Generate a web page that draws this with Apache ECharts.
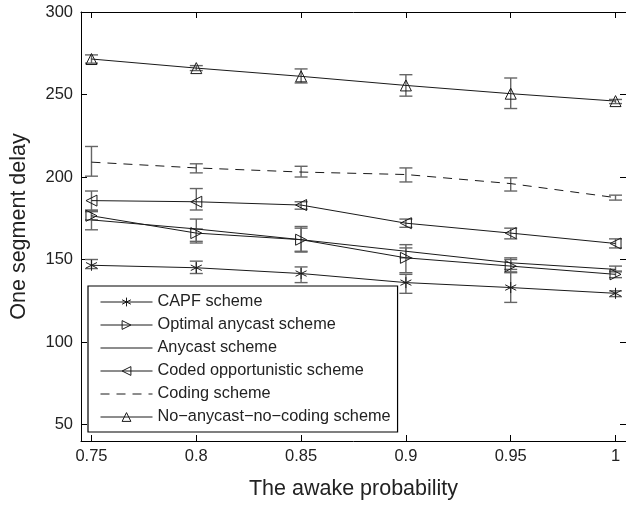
<!DOCTYPE html>
<html>
<head>
<meta charset="utf-8">
<script src="https://cdn.jsdelivr.net/npm/echarts@6/dist/echarts.min.js"></script>
<style>html,body{margin:0;padding:0;background:#fff}#c{width:626px;height:505px}</style>
</head>
<body>
<div id="c"></div>
<script>
var xValues = [0.75, 0.8, 0.85, 0.9, 0.95, 1];
var xTicks = [0.75, 0.8, 0.85, 0.9, 0.95, 1];
var yTicks = [50, 100, 150, 200, 250, 300];

var seriesNames = ['CAPF scheme', 'Optimal anycast scheme', 'Anycast scheme', 'Coded opportunistic scheme', 'Coding scheme', 'No\u2212anycast\u2212no\u2212coding scheme'];

var capf = [146.5, 145, 141.5, 136, 133, 129.5];
var capfLow = [144.5, 141.5, 136, 129.5, 124, 127.5];
var capfHigh = [150, 149, 145.5, 141, 142, 131];

var optimal = [176.5, 166, 162, 151, 146, 141];
var optimalLow = [174, 160, 155, 142, 142.5, 139];
var optimalHigh = [179, 168.5, 169, 157, 150, 143];

var anycast = [174, 168.5, 162, 155, 148, 144];
var anycastLow = [168, 161, 154.5, 151, 144, 142.5];
var anycastHigh = [180, 174.5, 170, 159, 151, 146];

var codedOpp = [185.7, 185, 183, 172, 166, 159.7];
var codedOppLow = [179.5, 180, 180.5, 169.5, 162.5, 157];
var codedOppHigh = [191.5, 193, 185, 174.5, 169, 162.5];

var coding = [209, 205.5, 203, 201.5, 196, 187.5];
var codingLow = [200.5, 202.5, 200, 197, 191.5, 186];
var codingHigh = [218.5, 208, 206.5, 205.5, 199.5, 189];

var noAny = [271.5, 266, 261, 255.5, 250.5, 246];
var noAnyLow = [269, 264.5, 257, 249, 241.5, 244.5];
var noAnyHigh = [274, 267.5, 265.5, 262, 260, 247];

var FONT = 'Liberation Sans, Arial, Helvetica, sans-serif';
var LINE = '#1a1a1a';
var ERR = '#666';

function pts(vals) { return xValues.map(function (x, i) { return [x, vals[i]]; }); }
function errPts(lo, hi) { return xValues.map(function (x, i) { return [x, lo[i], hi[i]]; }); }

var asterisk = 'path://M0,-5L0,5M-4.33,-2.5L4.33,2.5M-4.33,2.5L4.33,-2.5';

function lineSeries(name, vals, symbol, rotate, dashed) {
  var noSym = symbol === 'none';
  return {
    type: 'line', name: name, data: pts(vals),
    symbol: noSym ? 'circle' : symbol, symbolSize: 11, symbolRotate: rotate || 0,
    showSymbol: !noSym,
    lineStyle: { color: LINE, width: 1, type: dashed ? [9, 7] : 'solid' },
    itemStyle: { color: 'rgba(0,0,0,0)', borderColor: noSym ? 'rgba(0,0,0,0)' : LINE, borderWidth: 1 },
    emphasis: { disabled: true }, animation: false, z: 3
  };
}

function errSeries(id, lo, hi) {
  return {
    type: 'custom', name: id, data: errPts(lo, hi), animation: false, z: 2,
    renderItem: function (params, api) {
      var x = api.value(0);
      var p1 = api.coord([x, api.value(1)]);
      var p2 = api.coord([x, api.value(2)]);
      var w = 6.5;
      var st = { stroke: ERR, lineWidth: 1.4, fill: null };
      return {
        type: 'group', children: [
          { type: 'line', shape: { x1: p1[0], y1: p1[1], x2: p2[0], y2: p2[1] }, style: st },
          { type: 'line', shape: { x1: p1[0] - w, y1: p1[1], x2: p1[0] + w, y2: p1[1] }, style: st },
          { type: 'line', shape: { x1: p2[0] - w, y1: p2[1], x2: p2[0] + w, y2: p2[1] }, style: st }
        ]
      };
    }
  };
}

var chart = echarts.init(document.getElementById('c'), null, { renderer: 'canvas' });

var axisCommon = {
  axisLine: { show: true, lineStyle: { color: '#000', width: 1 } },
  splitLine: { show: false }
};

var option = {
  backgroundColor: '#fff',
  animation: false,
  textStyle: { fontFamily: FONT },
  grid: { left: 80, top: 12, right: 0, bottom: 63, containLabel: false },
  legend: {
    orient: 'vertical', left: 88, top: 286,
    data: seriesNames,
    itemWidth: 52, itemHeight: 11, itemGap: 7,
    padding: [8, 7, 7, 12],
    borderColor: '#000', borderWidth: 1.2, backgroundColor: '#fff',
    lineStyle: { width: 1 },
    itemStyle: { borderWidth: 1 },
    textStyle: { fontFamily: FONT, fontSize: 16.3, color: '#222', lineHeight: 16 },
    selectedMode: false
  },
  xAxis: [
    Object.assign({
      type: 'value', min: 0.745, max: 1.005, position: 'bottom',
      axisTick: { show: true, inside: true, length: 6, customValues: xTicks, lineStyle: { color: '#000' } },
      axisLabel: { show: true, customValues: xTicks, fontSize: 16.5, color: '#222', fontFamily: FONT, margin: 7,
        formatter: function (v) { return String(+v.toFixed(2)); } },
      name: 'The awake probability', nameLocation: 'middle', nameGap: 37,
      nameTextStyle: { fontSize: 21.5, color: '#222', fontFamily: FONT }
    }, axisCommon),
    Object.assign({
      type: 'value', min: 0.745, max: 1.005, position: 'top',
      axisTick: { show: true, inside: true, length: 6, customValues: xTicks, lineStyle: { color: '#000' } },
      axisLabel: { show: false }
    }, axisCommon)
  ],
  yAxis: [
    Object.assign({
      type: 'value', min: 40, max: 300, position: 'left',
      axisTick: { show: true, inside: true, length: 6, customValues: yTicks, lineStyle: { color: '#000' } },
      axisLabel: { show: true, customValues: yTicks, fontSize: 16.5, color: '#222', fontFamily: FONT, margin: 8 },
      name: 'One segment delay', nameLocation: 'middle', nameGap: 51,
      nameTextStyle: { fontSize: 21.5, color: '#222', fontFamily: FONT }
    }, axisCommon),
    Object.assign({
      type: 'value', min: 40, max: 300, position: 'right',
      axisTick: { show: true, inside: true, length: 6, customValues: yTicks, lineStyle: { color: '#000' } },
      axisLabel: { show: false }
    }, axisCommon)
  ],
  series: [
    errSeries('e1', capfLow, capfHigh),
    errSeries('e2', optimalLow, optimalHigh),
    errSeries('e3', anycastLow, anycastHigh),
    errSeries('e4', codedOppLow, codedOppHigh),
    errSeries('e5', codingLow, codingHigh),
    errSeries('e6', noAnyLow, noAnyHigh),
    lineSeries(seriesNames[0], capf, asterisk, 0, false),
    lineSeries(seriesNames[1], optimal, 'triangle', -90, false),
    lineSeries(seriesNames[2], anycast, 'none', 0, false),
    lineSeries(seriesNames[3], codedOpp, 'triangle', 90, false),
    lineSeries(seriesNames[4], coding, 'none', 0, true),
    lineSeries(seriesNames[5], noAny, 'triangle', 0, false)
  ]
};
chart.setOption(option);
</script>
</body>
</html>
